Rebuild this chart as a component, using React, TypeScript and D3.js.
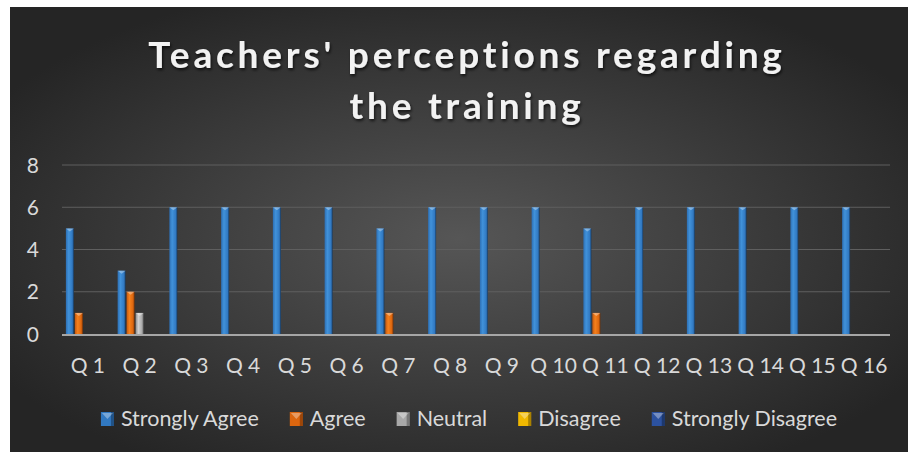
import React, { useEffect, useRef } from "react";
import * as d3 from "d3";

// chart data
const categories = ["Q 1", "Q 2", "Q 3", "Q 4", "Q 5", "Q 6", "Q 7", "Q 8", "Q 9", "Q 10", "Q 11", "Q 12", "Q 13", "Q 14", "Q 15", "Q 16"];
const seriesNames = ["Strongly Agree", "Agree", "Neutral", "Disagree", "Strongly Disagree"];
const stronglyAgree = [5, 3, 6, 6, 6, 6, 5, 6, 6, 6, 5, 6, 6, 6, 6, 6];
const agree = [1, 2, 0, 0, 0, 0, 1, 0, 0, 0, 1, 0, 0, 0, 0, 0];
const neutral = [0, 1, 0, 0, 0, 0, 0, 0, 0, 0, 0, 0, 0, 0, 0, 0];
const disagree = [0, 0, 0, 0, 0, 0, 0, 0, 0, 0, 0, 0, 0, 0, 0, 0];
const stronglyDisagree = [0, 0, 0, 0, 0, 0, 0, 0, 0, 0, 0, 0, 0, 0, 0, 0];
const yTicks = [0, 2, 4, 6, 8];
const titleLines = ["Teachers' perceptions regarding", "the training"];

// gradient stops for each series (left edge, highlight, body, dark right edge)
const seriesColors = [
    ["#2d6fb4", "#4192da", "#3179c2", "#17395e"],
    ["#c4580f", "#f5811d", "#dc660f", "#733105"],
    ["#8c8c8c", "#d0d0d0", "#a8a8a8", "#585858"],
    ["#c99700", "#ffd030", "#f0b800", "#7a5c00"],
    ["#24488e", "#3c67bb", "#2c52a0", "#14284c"],
];

export default function App() {
    const svgRef = useRef<SVGSVGElement | null>(null);

    useEffect(() => {
        const svg = d3.select(svgRef.current);
        svg.selectAll("*").remove();

        const width = 908;
        const height = 452;
        const margin = { top: 165, right: 18, bottom: 118, left: 62 };
        const font = "Lato, 'Open Sans', sans-serif";

        svg.attr("width", width).attr("height", height);

        const defs = svg.append("defs");

        // background radial gradient
        const bg = defs.append("radialGradient")
            .attr("id", "bg")
            .attr("cx", "50%").attr("cy", "52%").attr("r", "60%");
        bg.append("stop").attr("offset", "0%").attr("stop-color", "#565656");
        bg.append("stop").attr("offset", "100%").attr("stop-color", "#252525");

        // bar gradients
        seriesColors.forEach((c, i) => {
            const g = defs.append("linearGradient")
                .attr("id", `bar${i}`)
                .attr("x1", "0").attr("x2", "1").attr("y1", "0").attr("y2", "0");
            g.append("stop").attr("offset", "0%").attr("stop-color", c[0]);
            g.append("stop").attr("offset", "35%").attr("stop-color", c[1]);
            g.append("stop").attr("offset", "80%").attr("stop-color", c[2]);
            g.append("stop").attr("offset", "100%").attr("stop-color", c[3]);
        });

        // title shadow
        const sh = defs.append("filter").attr("id", "shadow")
            .attr("x", "-10%").attr("y", "-30%").attr("width", "120%").attr("height", "160%");
        sh.append("feDropShadow")
            .attr("dx", 1).attr("dy", 2).attr("stdDeviation", 1.5)
            .attr("flood-color", "#000").attr("flood-opacity", 0.7);

        // white page + dark chart box
        svg.append("rect").attr("width", width).attr("height", height).attr("fill", "#fff");
        svg.append("rect")
            .attr("x", 10).attr("y", 7)
            .attr("width", width - 10).attr("height", height - 7)
            .attr("fill", "url(#bg)");

        // title
        const title = svg.append("text")
            .attr("text-anchor", "middle")
            .attr("fill", "#f2f2f2")
            .attr("font-family", font)
            .attr("font-weight", "bold")
            .attr("font-size", "37px")
            .attr("letter-spacing", "3.8px")
            .attr("filter", "url(#shadow)");
        titleLines.forEach((line, i) => {
            title.append("tspan")
                .attr("x", 467)
                .attr("y", 68 + i * 51)
                .text(line);
        });

        const values = [stronglyAgree, agree, neutral, disagree, stronglyDisagree];

        // scales
        const x0 = d3.scaleBand()
            .domain(categories)
            .range([margin.left, width - margin.right])
            .paddingInner(0)
            .paddingOuter(0);

        const x1 = d3.scaleBand()
            .domain(seriesNames)
            .range([0, x0.bandwidth()])
            .paddingInner(0)
            .paddingOuter(0.375);

        const y = d3.scaleLinear()
            .domain([0, 8])
            .range([height - margin.bottom, margin.top]);

        // gridlines
        svg.append("g")
            .selectAll("line")
            .data(yTicks.filter((t) => t > 0))
            .join("line")
            .attr("x1", margin.left)
            .attr("x2", width - margin.right)
            .attr("y1", (d) => y(d))
            .attr("y2", (d) => y(d))
            .attr("stroke", "#5f5f5f")
            .attr("stroke-width", 1);

        // y tick labels
        svg.append("g")
            .selectAll("text")
            .data(yTicks)
            .join("text")
            .attr("x", 39)
            .attr("y", (d) => y(d))
            .attr("dy", "0.36em")
            .attr("text-anchor", "end")
            .attr("fill", "#d9d9d9")
            .attr("font-family", font)
            .attr("font-size", "21px")
            .text((d) => d);

        // bars
        const groups = svg.append("g")
            .selectAll("g")
            .data(categories)
            .join("g")
            .attr("transform", (d) => `translate(${x0(d)},0)`);

        groups.selectAll("rect")
            .data((d, ci) => seriesNames.map((s, si) => ({ s, si, v: values[si][ci] })))
            .join("rect")
            .filter((d) => d.v > 0)
            .attr("x", (d) => (x1(d.s) as number) + 0.5)
            .attr("y", (d) => y(d.v))
            .attr("width", x1.bandwidth() - 1)
            .attr("height", (d) => y(0) - y(d.v))
            .attr("fill", (d) => `url(#bar${d.si})`);

        // small bevel on top of bars
        groups.selectAll("path")
            .data((d, ci) => seriesNames.map((s, si) => ({ s, si, v: values[si][ci] })).filter((d) => d.v > 0))
            .join("path")
            .attr("d", (d) => {
                const bx = (x1(d.s) as number) + 0.5;
                const bw = x1.bandwidth() - 1;
                const by = y(d.v);
                return `M${bx},${by} L${bx + bw},${by} L${bx + bw / 2},${by + 3} Z`;
            })
            .attr("fill", "#fff")
            .attr("opacity", 0.35);

        // x axis line
        svg.append("line")
            .attr("x1", margin.left)
            .attr("x2", width - margin.right)
            .attr("y1", y(0) + 1)
            .attr("y2", y(0) + 1)
            .attr("stroke", "#a6a6a6")
            .attr("stroke-width", 2);

        // x labels
        svg.append("g")
            .selectAll("text")
            .data(categories)
            .join("text")
            .attr("x", (d) => (x0(d) as number) + x0.bandwidth() / 2)
            .attr("y", 373)
            .attr("text-anchor", "middle")
            .attr("fill", "#d9d9d9")
            .attr("font-family", font)
            .attr("font-size", "21px")
            .text((d) => d);

        // legend
        const legend = svg.append("g");
        const items = legend.selectAll("g")
            .data(seriesNames)
            .join("g");

        items.append("rect")
            .attr("width", 13)
            .attr("height", 14)
            .attr("y", -14)
            .attr("fill", (d, i) => seriesColors[i][2]);
        items.append("rect")
            .attr("x", 10)
            .attr("width", 3)
            .attr("height", 14)
            .attr("y", -14)
            .attr("fill", (d, i) => seriesColors[i][3])
            .attr("opacity", 0.6);
        items.append("path")
            .attr("d", "M1,-13 L12,-13 L6.5,-7 Z")
            .attr("fill", "#fff")
            .attr("opacity", 0.35);
        items.append("text")
            .attr("x", 20)
            .attr("y", 0)
            .attr("fill", "#d9d9d9")
            .attr("font-family", font)
            .attr("font-size", "21.5px")
            .text((d) => d);

        // place legend items side by side, centered
        let offset = 0;
        const widths: number[] = [];
        items.each(function () {
            const t = d3.select(this).select("text").node() as SVGTextElement;
            widths.push(20 + t.getComputedTextLength());
        });
        const gap = 31;
        const total = d3.sum(widths) + gap * (widths.length - 1);
        const start = 469 - total / 2;
        items.attr("transform", (d, i) => {
            const tx = start + offset;
            offset += widths[i] + gap;
            return `translate(${tx},426)`;
        });
    }, []);

    return (
        <div style={{ position: "absolute", left: 0, top: 0 }}>
            <svg ref={svgRef}></svg>
        </div>
    );
}
